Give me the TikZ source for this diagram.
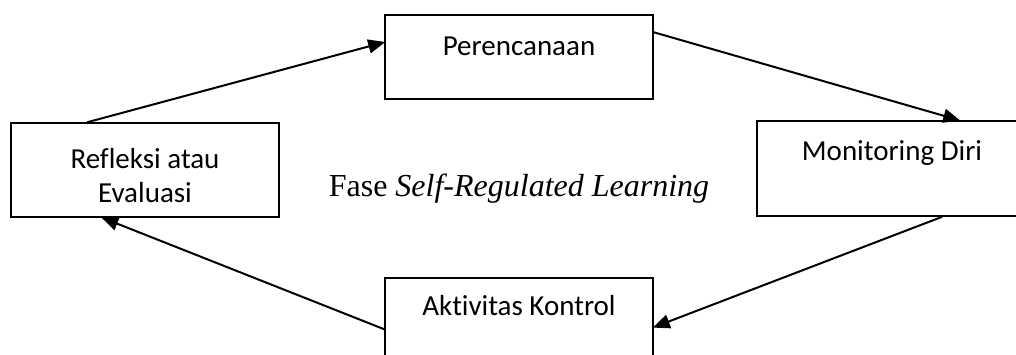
\documentclass[tikz,border=0pt]{standalone}
\usepackage{fontspec}
\setmainfont{Liberation Serif}
\newfontfamily\boxfont[Ligatures={NoCommon,NoContextual}]{Carlito}
\usetikzlibrary{arrows.meta,calc}
\tikzset{
  boxnode/.style={draw=black, line width=1.5pt, minimum width=268pt, inner sep=0pt},
  boxtext/.style={font=\boxfont\fontsize{29}{34}\selectfont, align=center, inner sep=0pt, anchor=base},
  flow/.style={line width=2pt, -{Triangle[length=17pt,width=14pt]}, shorten >=-1pt}
}
\begin{document}
\begin{tikzpicture}[x=1pt,y=-1pt]
\useasboundingbox (0,0) rectangle (1016,354);
\clip (0,0) rectangle (1016,354);
\fill[white] (0,0) rectangle (1016,354);
% boxes
\node[boxnode, minimum height=84pt] (plan) at (519,57) {};
\node[boxnode, minimum height=94pt] (refl) at (145,170) {};
\node[boxnode, minimum height=95pt] (mon) at (891,168.5) {};
\node[boxnode, minimum height=94pt] (act) at (519,325) {};
% texts
\node[boxtext] (tplan) at (519,55) {Perencanaan};
\node[boxtext] (trefl) at (145,202) {Refleksi atau\\Evaluasi};
\node[boxtext] (tmon) at (892,160) {Monitoring Diri};
\node[boxtext] (tact) at (519,315) {Aktivitas Kontrol};
\node[font=\fontsize{32}{38}\selectfont, inner sep=0pt, anchor=base] (title) at (519,196) {Fase \textit{Self-Regulated Learning}};
% connectors
\draw[flow] ($(refl.north west)+(77,0)$) -- ($(plan.north west)+(0,28)$);
\draw[flow] ($(plan.north east)+(0,18)$) -- ($(mon.north west)+(203,0)$);
\draw[flow] ($(mon.south west)+(186,0)$) -- ($(act.north east)+(0,50)$);
\draw[flow] ($(act.north west)+(0,52)$) -- ($(refl.south west)+(92,0)$);
\end{tikzpicture}
\end{document}
